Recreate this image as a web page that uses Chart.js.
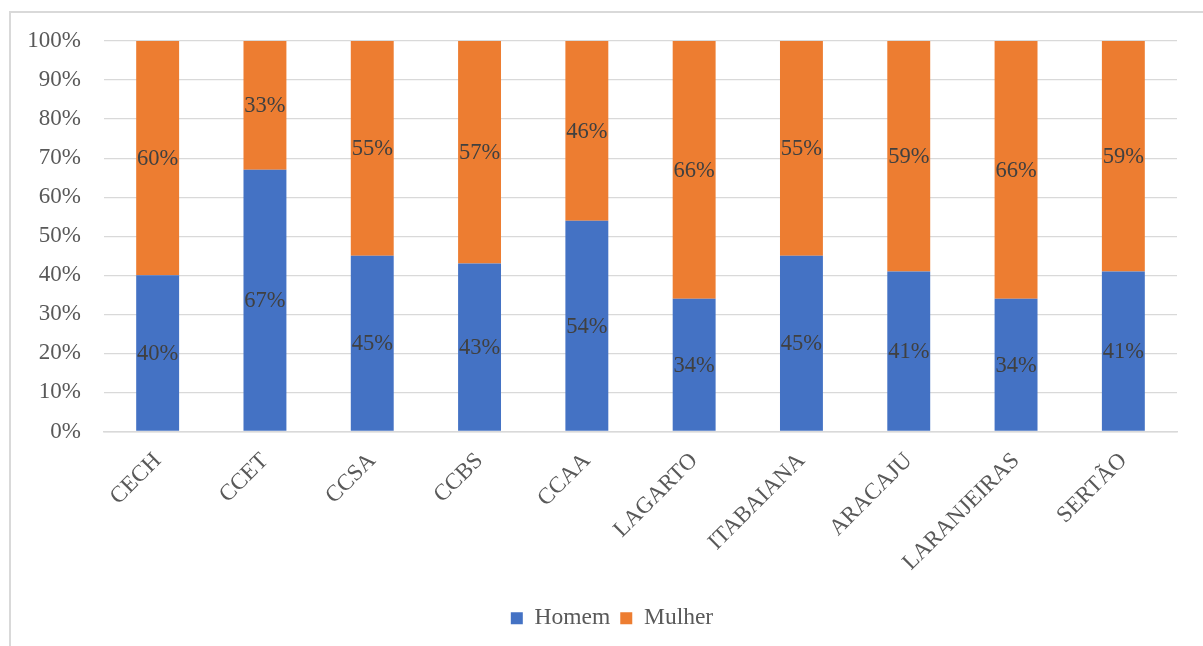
<!DOCTYPE html>
<html>
<head>
<meta charset="utf-8">
<script src="https://cdn.jsdelivr.net/npm/chart.js@4/dist/chart.umd.min.js"></script>
<style>
  html, body { margin: 0; padding: 0; background: #fff; overflow: hidden; width: 1203px; height: 646px; }
  #frame { position: absolute; left: 9px; top: 11px; width: 1210px; height: 660px;
           border-left: 2px solid #d9d9d9; border-top: 2px solid #d9d9d9; }
  #wrap { position: absolute; left: 11px; top: 13px; width: 1202px; height: 627px; }
</style>
</head>
<body>
<div id="frame"></div>
<div id="wrap"><canvas id="chart" width="1202" height="627"></canvas></div>
<script>
// Campus / centre names along the x axis
const categories = ['CECH', 'CCET', 'CCSA', 'CCBS', 'CCAA', 'LAGARTO', 'ITABAIANA', 'ARACAJU', 'LARANJEIRAS', 'SERTÃO'];
// Share of each group, in percent
const homem  = [40, 67, 45, 43, 54, 34, 45, 41, 34, 41];
const mulher = [60, 33, 55, 57, 46, 66, 55, 59, 66, 59];
// Y axis tick values
const yTicks = [0, 10, 20, 30, 40, 50, 60, 70, 80, 90, 100];

const serif = "'Liberation Serif', 'Times New Roman', serif";
const RIGHT_GAP = 36;

// Writes each segment's value in the middle of its bar piece
const segmentLabels = {
  id: 'segmentLabels',
  afterDatasetsDraw(chart) {
    const ctx = chart.ctx;
    ctx.save();
    ctx.font = '22.5px ' + serif;
    ctx.fillStyle = '#404040';
    ctx.textAlign = 'center';
    ctx.textBaseline = 'middle';
    chart.data.datasets.forEach((ds, i) => {
      const meta = chart.getDatasetMeta(i);
      meta.data.forEach((bar, j) => {
        const p = bar.getProps(['x', 'y', 'base'], true);
        ctx.fillText(ds.data[j] + '%', p.x, (p.y + p.base) / 2 + 1);
      });
    });
    ctx.restore();
  }
};

// Centres the legend on the whole canvas rather than on the padded layout box
const legendCentre = {
  id: 'legendCentre',
  afterLayout(chart) {
    const lg = chart.legend;
    if (lg) { lg.left += RIGHT_GAP / 2; lg.right += RIGHT_GAP / 2; }
  }
};

// Fixed axis boxes: no extra overhang padding
function fixBox(size) {
  return function (scale) {
    if (scale.isHorizontal()) scale.height = size; else scale.width = size;
    scale.paddingTop = 0; scale.paddingBottom = 0;
    scale.paddingLeft = 0; scale.paddingRight = 0;
  };
}

new Chart(document.getElementById('chart'), {
  type: 'bar',
  data: {
    labels: categories,
    datasets: [
      { label: 'Homem', data: homem, backgroundColor: '#4472C4' },
      { label: 'Mulher', data: mulher, backgroundColor: '#ED7D31' }
    ]
  },
  options: {
    responsive: false,
    animation: false,
    devicePixelRatio: 1,
    layout: { autoPadding: false, padding: { top: 28, right: RIGHT_GAP, left: 0, bottom: 0 } },
    datasets: { bar: { categoryPercentage: 1, barPercentage: 0.4 } },
    scales: {
      x: {
        stacked: true,
        grid: { display: false, drawTicks: false },
        border: { display: true, color: '#d9d9d9', width: 1.5 },
        ticks: {
          minRotation: 45, maxRotation: 45, padding: 16,
          color: '#595959', font: { family: serif, size: 23 }
        },
        afterFit: fixBox(165)
      },
      y: {
        stacked: true,
        min: 0, max: 100,
        afterBuildTicks(scale) { scale.ticks = yTicks.map(v => ({ value: v })); },
        grid: { color: '#d9d9d9', lineWidth: 1.3, drawTicks: false },
        border: { display: false },
        ticks: {
          padding: 23,
          color: '#595959', font: { family: serif, size: 23 },
          callback: v => v + '%'
        },
        afterFit: fixBox(93)
      }
    },
    plugins: {
      legend: {
        position: 'bottom',
        labels: {
          boxWidth: 12, boxHeight: 12, padding: 10,
          color: '#595959', font: { family: serif, size: 23.5 }
        }
      },
      tooltip: { enabled: false }
    }
  },
  plugins: [segmentLabels, legendCentre]
});
</script>
</body>
</html>
